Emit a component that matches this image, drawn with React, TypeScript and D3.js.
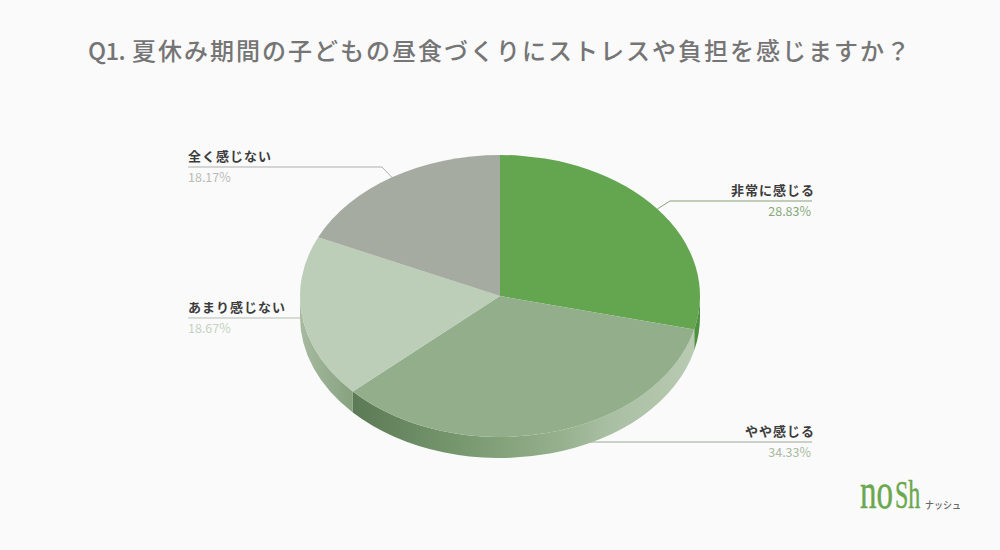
import React from 'react';
import * as d3 from 'd3';

const categories = ['非常に感じる', 'やや感じる', 'あまり感じない', '全く感じない'];
const shares = [28.83, 34.33, 18.67, 18.17];
const titleHead = 'Q1.';
const titleBody = '夏休み期間の子どもの昼食づくりにストレスや負担を感じますか？';

const sliceColors = ['#64a650', '#93ae8b', '#bccdb8', '#a6aba2'];
const percentColors = ['#86a87a', '#a9bba3', '#c6d2c2', '#b9bcb6'];
const lineColors = ['#86a274', '#9aa897', '#b4bdb0', '#aeb1ab'];

const width = 1000, height = 550;
const cx = 500, cy = 296, rx = 200, ry = 141, depth = 21;
const fontFamily = '"Noto Sans CJK JP", "Noto Sans", sans-serif';

// label placement for each slice: y of the horizontal leader and x of its far end
const leaderY = [201, 442, 318, 167];
const leaderEnd = [812, 812, 188, 188];
const elbowX = [670, 590, 300, 382];

const pie = d3.pie<number>().sort(null).value(d => d);
const slices = pie(shares);
const arc = d3.arc<d3.PieArcDatum<number>>().innerRadius(0).outerRadius(rx);

// point on the top ellipse for an angle measured clockwise from 12 o'clock
const rim = (a: number, dy = 0): [number, number] => [
  cx + rx * Math.sin(a),
  cy - ry * Math.cos(a) + dy,
];

// side wall between two angles, only the half that faces the viewer
const wallPath = (a0: number, a1: number) => {
  const from = Math.max(a0, Math.PI / 2);
  const to = Math.min(a1, (3 * Math.PI) / 2);
  if (to <= from) return '';
  const [x0, y0] = rim(from);
  const [x1, y1] = rim(to);
  return `M${x0},${y0}A${rx},${ry} 0 0 1 ${x1},${y1}L${x1},${y1 + depth}A${rx},${ry} 0 0 0 ${x0},${y0 + depth}Z`;
};

const wallFills = ['#4f9140', 'url(#wall1)', 'url(#wall2)', 'none'];

const App = () => (
  <svg
    width={width}
    height={height}
    viewBox={`0 0 ${width} ${height}`}
    style={{ position: 'absolute', left: 0, top: 0, background: '#fafafa' }}
    fontFamily={fontFamily}
  >
    <defs>
      <linearGradient id="wall1" gradientUnits="userSpaceOnUse" x1={353} x2={695} y1={0} y2={0}>
        <stop offset="0" stopColor="#5c7a55" />
        <stop offset="0.3" stopColor="#76976e" />
        <stop offset="0.55" stopColor="#8fab87" />
        <stop offset="0.75" stopColor="#a9bfa2" />
        <stop offset="1" stopColor="#b9cab2" />
      </linearGradient>
      <linearGradient id="wall2" gradientUnits="userSpaceOnUse" x1={300} x2={353} y1={0} y2={0}>
        <stop offset="0" stopColor="#a6baa0" />
        <stop offset="1" stopColor="#87a27f" />
      </linearGradient>
    </defs>

    <text y={60} fontSize={24} fontWeight={500} fill="#757575">
      <tspan x={88} letterSpacing={-0.6}>{titleHead}</tspan>
      <tspan x={132} letterSpacing={2}>{titleBody}</tspan>
    </text>

    {/* leader lines sit behind the pie */}
    {slices.map((s, i) => {
      const mid = (s.startAngle + s.endAngle) / 2;
      const [x, y] = rim(mid);
      return (
        <polyline
          key={categories[i]}
          points={`${x},${y} ${elbowX[i]},${leaderY[i]} ${leaderEnd[i]},${leaderY[i]}`}
          fill="none"
          stroke={lineColors[i]}
          strokeWidth={1}
        />
      );
    })}

    {slices.map((s, i) => (
      <path key={categories[i]} d={wallPath(s.startAngle, s.endAngle)} fill={wallFills[i]} />
    ))}

    <g transform={`translate(${cx},${cy}) scale(1,${ry / rx})`}>
      {slices.map((s, i) => (
        <path key={categories[i]} d={arc(s) as string} fill={sliceColors[i]} />
      ))}
    </g>

    {slices.map((s, i) => {
      const anchor = leaderEnd[i] > cx ? 'end' : 'start';
      return (
        <g key={categories[i]} textAnchor={anchor}>
          <text x={leaderEnd[i] + (anchor === 'end' ? 3 : 0)} y={leaderY[i] - 6} fontSize={13} fontWeight={700} fill="#3c3c3c" letterSpacing={1}>
            {categories[i]}
          </text>
          <text x={leaderEnd[i] - (anchor === 'end' ? 1 : 0)} y={leaderY[i] + 15} fontSize={12.5} fontWeight={400} fill={percentColors[i]}>
            {d3.format('.2f')(s.data)}%
          </text>
        </g>
      );
    })}

    <g fontFamily='"Liberation Serif", serif' fill="#6aa84f" stroke="#6aa84f" strokeWidth={0.5}>
      <text transform="translate(860,508) scale(0.66,1)" fontSize={50}>no</text>
      <text transform="translate(895,508) scale(0.6,1)" fontSize={40}>Sh</text>
    </g>
    <text transform="translate(925,509) scale(0.9,1)" fontSize={10} fontWeight={500} fill="#666">
      ナッシュ
    </text>
  </svg>
);

export default App;
